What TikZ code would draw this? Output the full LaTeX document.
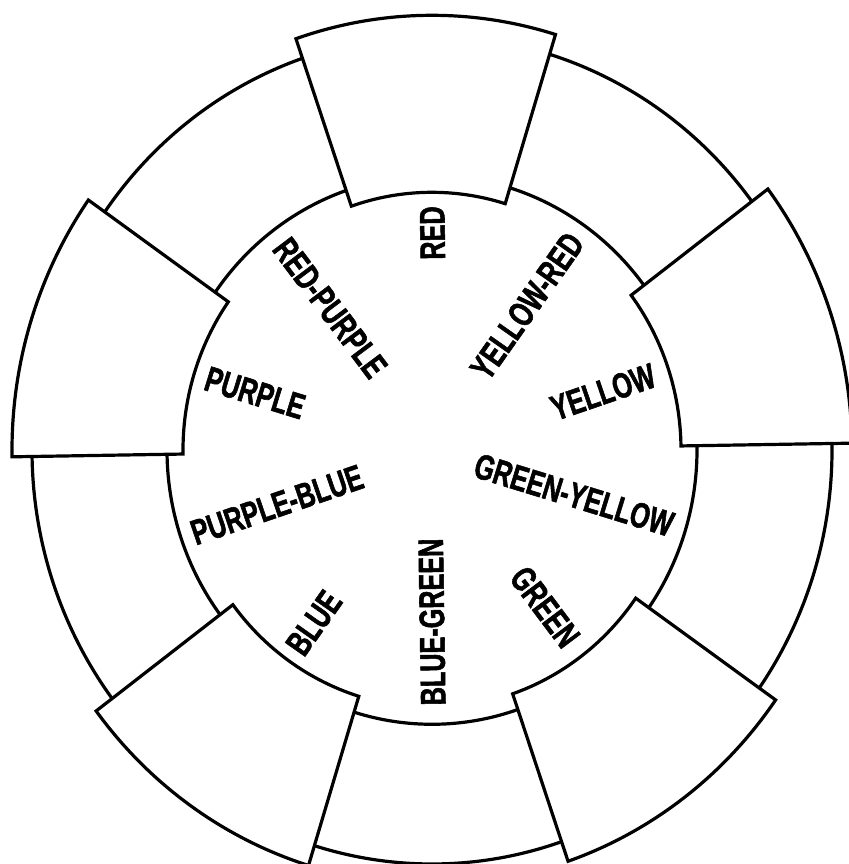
\documentclass[tikz,border=0pt]{standalone}
\usepackage{fontspec}
\newfontfamily\labfont{Liberation Sans}[FakeStretch=0.71,FakeBold=1.5]
\begin{document}
\begin{tikzpicture}[x=1pt,y=1pt,line width=3.2pt,line join=miter,
  lab/.style={font=\labfont\bfseries\fontsize{35.5}{35.5}\selectfont,inner sep=0pt}]
\useasboundingbox (0,0) rectangle (848,864);
\coordinate (O) at (432,414);
\def\ys{1.035}
\def\off{0.9}
% primary blocks (protruding)
\foreach \a [evaluate=\a as \s using \a+\off-18,
             evaluate=\a as \e using \a+\off+18] in {90,18,-54,-126,162}{
  \draw[shift={(O)}] (\s:249 and 257.7)
     arc[start angle=\s,end angle=\e,x radius=249,y radius=257.7]
     -- (\e:420 and 434.7)
     arc[start angle=\e,end angle=\s,x radius=420,y radius=434.7]
     -- cycle;
}
% intermediate ring segments
\foreach \a [evaluate=\a as \s using \a+\off+18,
             evaluate=\a as \e using \a+\off+54] in {90,18,-54,-126,162}{
  \draw[shift={(O)}] (\s:265 and 274.3)
     arc[start angle=\s,end angle=\e,x radius=265,y radius=274.3];
  \draw[shift={(O)}] (\s:400 and 414)
     arc[start angle=\s,end angle=\e,x radius=400,y radius=414];
}
% labels
\node[lab,rotate=90.9]  (red) at (432.5,631) {RED};
\node[lab,rotate=54.9]  (yr)  at (527,558) {YELLOW-RED};
\node[lab,rotate=18.9]  (y)   at (603,472) {YELLOW};
\node[lab,rotate=-17.1] (gy)  at (574,369) {GREEN-YELLOW};
\node[lab,rotate=-53.1] (g)   at (545,257) {GREEN};
\node[lab,rotate=90.9]  (bg)  at (432,242) {BLUE-GREEN};
\node[lab,rotate=54.9]  (b)   at (314,241) {BLUE};
\node[lab,rotate=18.9]  (pb)  at (277,359) {PURPLE-BLUE};
\node[lab,rotate=-17.1] (p)   at (255,471) {PURPLE};
\node[lab,rotate=-53.1] (rp)  at (330,556) {RED-PURPLE};
\end{tikzpicture}
\end{document}
